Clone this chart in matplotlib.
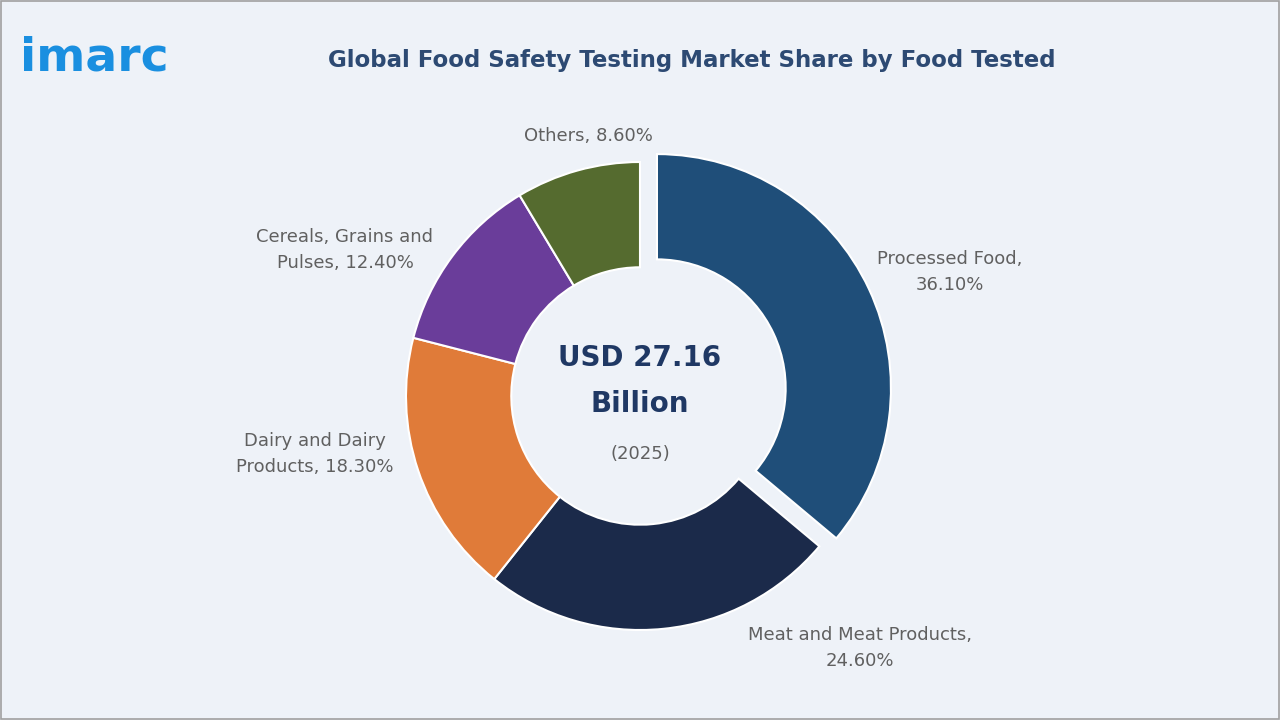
import matplotlib
matplotlib.use("Agg")
import matplotlib.pyplot as plt
from matplotlib.patches import Rectangle

categories = ["Processed Food", "Meat and Meat Products", "Dairy and Dairy Products", "Cereals, Grains and Pulses", "Others"]
values = [36.10, 24.60, 18.30, 12.40, 8.60]
labels = ["Processed Food,\n36.10%", "Meat and Meat Products,\n24.60%", "Dairy and Dairy\nProducts, 18.30%", "Cereals, Grains and\nPulses, 12.40%", "Others, 8.60%"]
colors = ["#1f4e79", "#1b2a4a", "#e07b39", "#6a3d9a", "#556b2f"]
explode = [0.08, 0, 0, 0, 0]

W, H = 1280, 720
fig = plt.figure(figsize=(12.8, 7.2), dpi=100)
bg = "#eef2f8"
fig.patch.set_facecolor(bg)
fig.patches.append(Rectangle((0.001, 0.001), 0.998, 0.997, transform=fig.transFigure,
                             fill=False, edgecolor="#a0a0a0", linewidth=1.2))

cx, cy, R = 640, 396, 234
half = 320
ax = fig.add_axes([(cx - half) / W, (H - cy - half) / H, 2 * half / W, 2 * half / H])
ax.set_facecolor("none")
ax.pie(values, colors=colors, startangle=90, counterclock=False, explode=explode,
       radius=1.0, wedgeprops=dict(width=0.45, edgecolor="white", linewidth=1.5))
lim = half / R
ax.set_xlim(-lim, lim); ax.set_ylim(-lim, lim); ax.set_aspect("equal"); ax.axis("off")

def px(x, y):
    return ((x - cx) / R, (cy - y) / R)

lab_pos = [(950, 272), (860, 648), (315, 454), (345, 250), (588, 136)]
for lab, (x, y) in zip(labels, lab_pos):
    ax.text(*px(x, y), lab, ha="center", va="center", fontsize=13, color="#606060", linespacing=1.5)

ax.text(*px(640, 358), "USD 27.16", ha="center", va="center", fontsize=20, fontweight="bold", color="#1f3864")
ax.text(*px(640, 404), "Billion", ha="center", va="center", fontsize=20, fontweight="bold", color="#1f3864")
ax.text(*px(640, 454), "(2025)", ha="center", va="center", fontsize=13, color="#606060")

fig.text(692 / W, 1 - 60 / H, "Global Food Safety Testing Market Share by Food Tested",
         ha="center", va="center", fontsize=16.5, fontweight="bold", color="#2d4a73")
fig.text(20 / W, 1 - 58 / H, "imarc", ha="left", va="center", fontsize=34, fontweight="bold", color="#1a8fe0")

fig.savefig("out.png", dpi=100, facecolor=bg)
